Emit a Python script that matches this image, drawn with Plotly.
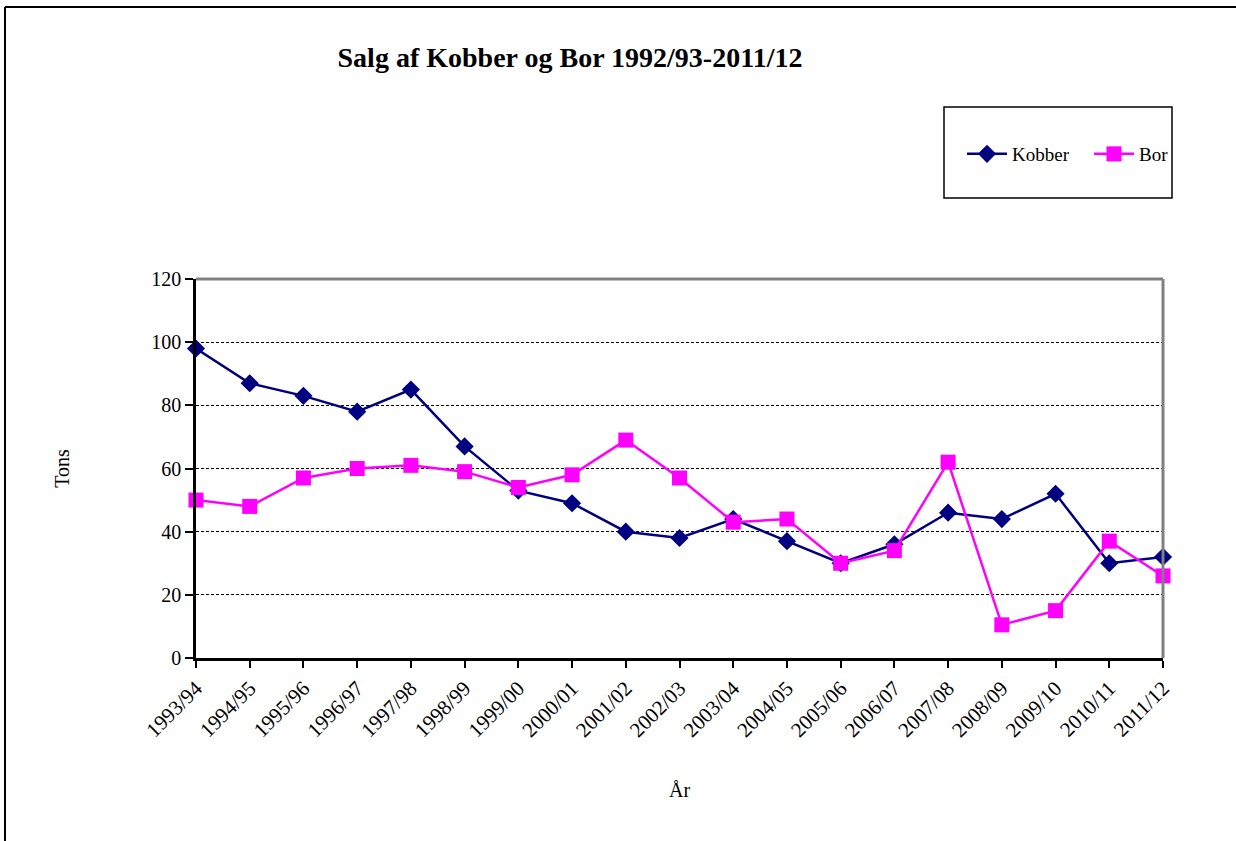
import plotly.graph_objects as go

years = ["1993/94", "1994/95", "1995/96", "1996/97", "1997/98", "1998/99", "1999/00",
         "2000/01", "2001/02", "2002/03", "2003/04", "2004/05", "2005/06", "2006/07",
         "2007/08", "2008/09", "2009/10", "2010/11", "2011/12"]
kobber = [98, 87, 83, 78, 85, 67, 53, 49, 40, 38, 44, 37, 30, 36, 46, 44, 52, 30, 32]
bor = [50, 48, 57, 60, 61, 59, 54, 58, 69, 57, 43, 44, 30, 34, 62, 10.5, 15, 37, 26]
y_ticks = [0, 20, 40, 60, 80, 100, 120]

SERIF = "Liberation Serif, Times New Roman, serif"

fig = go.Figure()
fig.add_trace(go.Scatter(
    x=years, y=kobber, name="Kobber", mode="lines+markers",
    line=dict(color="#000080", width=2.5),
    marker=dict(symbol="diamond", size=14, color="#000080"),
    cliponaxis=False,
))
fig.add_trace(go.Scatter(
    x=years, y=bor, name="Bor", mode="lines+markers",
    line=dict(color="#FF00FF", width=2.5),
    marker=dict(symbol="square", size=15, color="#FF00FF"),
    cliponaxis=False,
))

W, H = 1236, 841
L, R, T, B = 196, 73, 279, 183
pw, ph = W - L - R, H - T - B

def px_x(p):
    return (p - L) / pw

def px_y(p):
    return 1 - (p - T) / ph

fig.update_layout(
    width=W, height=H,
    margin=dict(l=L, r=R, t=T, b=B),
    paper_bgcolor="white", plot_bgcolor="white",
    font=dict(family=SERIF, color="black", size=19),
    title=dict(text="<b>Salg af Kobber og Bor 1992/93-2011/12</b>",
               x=570 / W, xanchor="center", y=1 - 57 / H, yanchor="middle",
               font=dict(family=SERIF, size=28, color="black")),
    showlegend=True,
    legend=dict(orientation="h", x=px_x(962), y=px_y(154), xanchor="left", yanchor="middle",
                borderwidth=0, bgcolor="rgba(0,0,0,0)",
                font=dict(family=SERIF, size=19, color="black"),
                itemwidth=40, tracegroupgap=0,
                entrywidthmode="pixels", entrywidth=72,
                valign="middle"),
    xaxis=dict(
        type="category", categoryorder="array", categoryarray=years,
        range=[0, len(years) - 1],
        tickmode="array", tickvals=years, ticktext=years,
        tickangle=-45, ticks="outside", ticklen=7, tickwidth=2, tickcolor="black",
        showline=True, linecolor="black", linewidth=2.5,
        showgrid=False, zeroline=False,
        tickfont=dict(family=SERIF, size=21, color="black"),
        title=dict(text="År", font=dict(family=SERIF, size=20, color="black"), standoff=42),
    ),
    yaxis=dict(
        range=[0, 120], tickmode="array", tickvals=y_ticks,
        ticks="outside", ticklen=8, tickwidth=1.5, tickcolor="black",
        showline=True, linecolor="black", linewidth=2.5,
        showgrid=True, gridcolor="black", gridwidth=1, griddash="3px,2px",
        zeroline=False,
        tickfont=dict(family=SERIF, size=20, color="black"),
        title=dict(text="Tons", font=dict(family=SERIF, size=20, color="black"), standoff=77),
    ),
    shapes=[
        # plot-area border (gray) top and right
        dict(type="line", xref="paper", yref="paper", x0=0, x1=1, y0=1, y1=1,
             line=dict(color="#808080", width=3), layer="above"),
        dict(type="line", xref="paper", yref="paper", x0=1, x1=1, y0=0, y1=1,
             line=dict(color="#808080", width=3), layer="above"),
        # chart border: top and left
        dict(type="line", xref="paper", yref="paper", x0=px_x(5), x1=px_x(1236),
             y0=px_y(7), y1=px_y(7), line=dict(color="black", width=2)),
        dict(type="line", xref="paper", yref="paper", x0=px_x(5), x1=px_x(5),
             y0=px_y(7), y1=px_y(841), line=dict(color="black", width=2)),
        # legend box
        dict(type="rect", xref="paper", yref="paper", x0=px_x(944), x1=px_x(1172),
             y0=px_y(198), y1=px_y(107), line=dict(color="black", width=1.5),
             fillcolor="rgba(0,0,0,0)", layer="below"),
    ],
)

fig.write_html("out.html", config={"displayModeBar": False},
               post_script="document.body.style.margin='0';document.body.style.padding='0';")
